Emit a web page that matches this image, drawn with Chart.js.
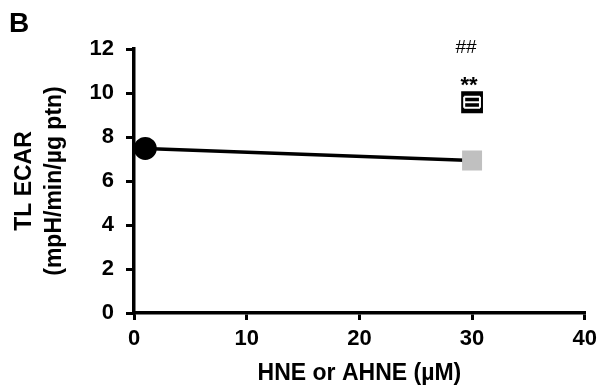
<!DOCTYPE html>
<html>
<head>
<meta charset="utf-8">
<script src="https://cdn.jsdelivr.net/npm/chart.js@4/dist/chart.umd.min.js"></script>
<style>
  html, body { margin: 0; padding: 0; background: #fff; }
  #wrap { width: 603px; height: 386px; }
</style>
</head>
<body>
<div id="wrap"><canvas id="ecar" width="603" height="386"></canvas></div>
<script>
// HNE series: control point (circle) and 30 uM (grey square), joined by a line
const hneX = [1, 30];
const hneY = [7.48, 6.93];
// AHNE point at 30 uM with small error bars
const ahneX = [30];
const ahneY = [9.58];
const ahneYErr = [0.25];
const ahneXErr = [0.7];
// significance marks above the AHNE point
const sigMarks = ['**', '##'];

const FONT = "'Liberation Sans', Arial, sans-serif";
Chart.defaults.font.family = FONT;
Chart.defaults.color = '#000';

// panel letter, significance marks, white error bars inside the black marker
const extras = {
    id: 'extras',
    afterDatasetsDraw(chart) {
        const ctx = chart.ctx;
        const xs = chart.scales.x, ys = chart.scales.y;
        ctx.save();
        ahneX.forEach((v, i) => {
            const px = xs.getPixelForValue(v);
            const py = ys.getPixelForValue(ahneY[i]);
            const yLo = ys.getPixelForValue(ahneY[i] - ahneYErr[i]);
            const yHi = ys.getPixelForValue(ahneY[i] + ahneYErr[i]);
            const xLo = xs.getPixelForValue(v - ahneXErr[i]);
            const xHi = xs.getPixelForValue(v + ahneXErr[i]);
            ctx.strokeStyle = '#fff';
            ctx.lineWidth = 2;
            ctx.beginPath();
            // x error bar with caps
            ctx.moveTo(xLo, py); ctx.lineTo(xHi, py);
            ctx.moveTo(xLo, yHi); ctx.lineTo(xLo, yLo);
            ctx.moveTo(xHi, yHi); ctx.lineTo(xHi, yLo);
            // y error caps
            ctx.moveTo(xLo, yHi); ctx.lineTo(xHi, yHi);
            ctx.moveTo(xLo, yLo); ctx.lineTo(xHi, yLo);
            ctx.stroke();

            ctx.fillStyle = '#000';
            ctx.textAlign = 'center';
            ctx.textBaseline = 'alphabetic';
            ctx.font = 'bold 22px ' + FONT;
            ctx.fillText(sigMarks[0], px - 3, py - 10);
            ctx.font = '19px ' + FONT;
            ctx.fillText(sigMarks[1], px - 6, py - 49);
        });
        ctx.font = 'bold 28px ' + FONT;
        ctx.textAlign = 'left';
        ctx.textBaseline = 'alphabetic';
        ctx.fillStyle = '#000';
        ctx.fillText('B', 9, 32);
        ctx.restore();
    }
};

new Chart(document.getElementById('ecar'), {
    type: 'scatter',
    data: {
        datasets: [{
            label: 'HNE',
            data: hneX.map((x, i) => ({ x: x, y: hneY[i] })),
            showLine: true,
            borderColor: '#000',
            borderWidth: 3.5,
            pointStyle: ['circle', 'rect'],
            pointRadius: [10.5, 12.7],
            pointBackgroundColor: ['#000', '#c0c0c0'],
            pointBorderColor: ['#000', '#c0c0c0'],
            pointBorderWidth: 2,
            pointHoverRadius: [10.5, 12.7]
        }, {
            label: 'AHNE',
            data: ahneX.map((x, i) => ({ x: x, y: ahneY[i] })),
            pointStyle: 'rect',
            pointRadius: 14,
            pointBackgroundColor: '#000',
            pointBorderColor: '#000',
            pointBorderWidth: 2
        }]
    },
    options: {
        responsive: false,
        animation: false,
        clip: false,
        layout: { padding: { left: 0, top: 49, right: 13, bottom: 0 } },
        plugins: { legend: { display: false }, tooltip: { enabled: false } },
        elements: { point: { borderJoinStyle: 'round' } },
        scales: {
            x: {
                type: 'linear',
                min: 0, max: 40,
                afterFit(s) { s.height = 73; },
                border: { color: '#000', width: 3.5 },
                grid: { drawOnChartArea: false, color: '#000', lineWidth: 3, tickLength: 7 },
                ticks: { stepSize: 10, padding: 6, font: { size: 22, weight: 'bold' }, color: '#000' },
                title: {
                    display: true,
                    text: 'HNE or AHNE (µM)',
                    font: { size: 23, weight: 'bold', lineHeight: 1 },
                    padding: { top: 0, bottom: 1 },
                    color: '#000'
                }
            },
            y: {
                type: 'linear',
                min: 0, max: 12,
                afterFit(s) { s.width = 134; },
                border: { color: '#000', width: 3.5 },
                grid: { drawOnChartArea: false, color: '#000', lineWidth: 3, tickLength: 8 },
                ticks: { stepSize: 2, padding: 12, font: { size: 22, weight: 'bold' }, color: '#000' },
                title: {
                    display: true,
                    text: ['TL ECAR', '(mpH/min/µg ptn)'],
                    font: { size: 23, weight: 'bold', lineHeight: 1.3 },
                    padding: { top: 10, bottom: 0 },
                    color: '#000'
                }
            }
        }
    },
    plugins: [extras]
});
</script>
</body>
</html>
